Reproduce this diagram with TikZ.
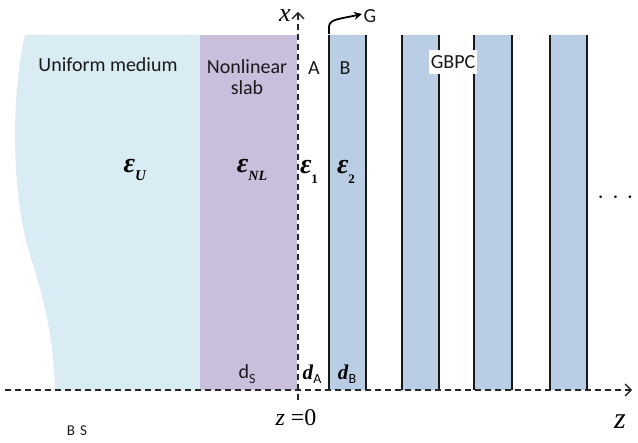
\documentclass[tikz,border=0pt]{standalone}
\usepackage{fontspec}
\setmainfont{Liberation Serif}
\newfontfamily\calib{Carlito}
\usetikzlibrary{arrows.meta}
\definecolor{ublue}{RGB}{217,236,244}
\definecolor{nlpurple}{RGB}{201,190,219}
\definecolor{sblue}{RGB}{185,205,229}
\tikzset{
  sanslab/.style={font=\calib\fontsize{20}{22}\selectfont, text=black!90, inner sep=0pt, align=center},
  epslab/.style={font=\fontsize{28}{30}\selectfont, inner sep=0pt},
  dlab/.style={font=\fontsize{21}{23}\selectfont, inner sep=0pt},
  axisline/.style={line width=1.4pt, dash pattern=on 6pt off 4pt, black!85},
  stripeline/.style={line width=1.8pt, black!90},
  barb/.style={-{Straight Barb[length=6pt,width=12pt,line width=1.3pt]}}
}
\newcommand{\beps}{\textbf{\textit{ε}}}
\begin{document}
\begin{tikzpicture}[x=1pt,y=-1pt]
\useasboundingbox (0,0) rectangle (638,443);
% uniform medium
\fill[ublue] (25,35) .. controls (12,90) and (10,190) .. (30,255)
  .. controls (48,310) and (54,350) .. (55,390) -- (200,390) -- (200,35) -- cycle;
% nonlinear slab
\fill[nlpurple] (200,35) rectangle (297,390);
% stripes
\foreach \a/\b in {329/366, 402/439, 474/512, 550/587}{
  \fill[sblue] (\a,35) rectangle (\b,390);
  \draw[stripeline] (\a,35) -- (\a,390);
  \draw[stripeline] (\b,35) -- (\b,390);
}
% axes
\coordinate (zstart) at (5,390);
\coordinate (zend) at (632,390);
\coordinate (xstart) at (298,400);
\coordinate (xend) at (298,12);
\draw[axisline, barb] (zstart) -- (zend);
\draw[axisline, barb] (xstart) -- (xend);
% labels
\node[font=\itshape\fontsize{26}{28}\selectfont, inner sep=0pt] (xl) at (285,16) {x};
\node[font=\itshape\fontsize{30}{32}\selectfont, inner sep=0pt] (zl) at (620,422) {z};
\node[font=\fontsize{24}{26}\selectfont, inner sep=0pt] (z0) at (296,418) {\textit{z} =0};
\node[sanslab] (um) at (108,65) {Uniform medium};
\node[sanslab, font=\calib\fontsize{20}{21}\selectfont] (nl) at (247,77) {Nonlinear\\slab};
\node[sanslab] (la) at (314,68) {A};
\node[sanslab] (lb) at (345,68) {B};
\node[sanslab, fill=white, minimum width=48pt, minimum height=24pt] (gbpc) at (453,62) {GBPC};
\node[epslab] (eu) at (135,170) {\beps\raisebox{-0.3em}{\fontsize{15}{16}\selectfont\textbf{\textit{U}}}};
\node[epslab] (enl) at (252,170) {\beps\raisebox{-0.3em}{\fontsize{14}{16}\selectfont\textbf{\textit{NL}}}};
\node[epslab] (e1) at (309,172) {\beps\raisebox{-0.35em}{\fontsize{13}{14}\selectfont\textbf{1}}};
\node[epslab] (e2) at (346,172) {\beps\raisebox{-0.35em}{\fontsize{13}{14}\selectfont\textbf{2}}};
\node[sanslab] (ds) at (247,374) {d\raisebox{-0.25em}{\fontsize{14}{15}\selectfont S}};
\node[dlab] (da) at (312,374) {\textbf{\textit{d}}\raisebox{-0.2em}{\calib\fontsize{14}{15}\selectfont A}};
\node[dlab] (db) at (347,374) {\textbf{\textit{d}}\raisebox{-0.2em}{\calib\fontsize{14}{15}\selectfont B}};
\node[sanslab, font=\calib\fontsize{15}{17}\selectfont] (bs) at (77,431) {B\,\,S};
\node[font=\fontsize{22}{24}\selectfont, inner sep=0pt, anchor=east] (dots) at (634,200) {·\,\,·\,\,·};
% G arrow
\coordinate (gstart) at (329,34);
\node[sanslab] (gl) at (370,16) {G};
\draw[line width=1.8pt, -{Stealth[length=8pt,width=8pt]}] (gstart) -- (329,27) .. controls (329,19) and (340,19) .. (362,14);
\end{tikzpicture}
\end{document}
